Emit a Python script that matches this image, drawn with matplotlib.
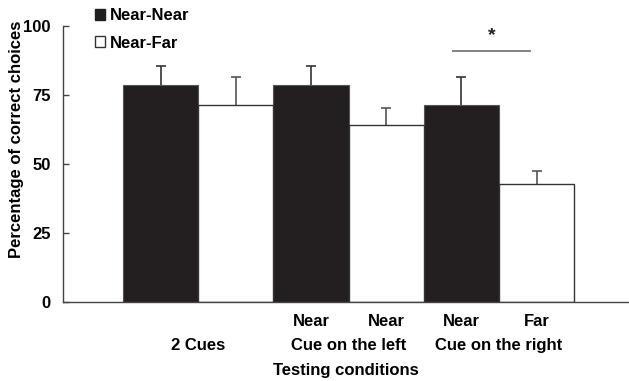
import matplotlib
matplotlib.use("Agg")
import matplotlib.pyplot as plt
from matplotlib.patches import Patch

plt.rcParams['font.family'] = ['Liberation Sans', 'DejaVu Sans']
plt.rcParams['font.weight'] = 'bold'

conditions = ["2 Cues", "Cue on the left", "Cue on the right"]
series = ["Near-Near", "Near-Far"]
near_near = [78.5, 78.5, 71.4]
near_far = [71.4, 64.3, 42.9]
near_near_err = [7.0, 7.0, 10.0]
near_far_err = [10.0, 6.0, 4.7]
bar_labels = ["", "", "Near", "Near", "Near", "Far"]
sig_y = 91.0

fig = plt.figure(figsize=(6.29, 3.81), dpi=100)
ax = fig.add_axes([63/629, 79/381, 566/629, 276/381])

black = '#231f20'
xs_nn = [2*i for i in range(3)]
xs_nf = [2*i + 1 for i in range(3)]
ax.bar(xs_nn, near_near, width=1.0, color=black, edgecolor='#555555', linewidth=0.8, zorder=2)
ax.bar(xs_nf, near_far, width=1.0, color='white', edgecolor='#333333', linewidth=1.0, zorder=2)
# symmetric error bars drawn behind the bars so only the upper half shows
ax.errorbar(xs_nn, near_near, yerr=near_near_err, fmt='none', ecolor='#333333',
            elinewidth=1.2, capsize=3.5, capthick=1.2, zorder=1)
ax.errorbar(xs_nf, near_far, yerr=near_far_err, fmt='none', ecolor='#555555',
            elinewidth=1.2, capsize=3.5, capthick=1.2, zorder=1)

# significance
ax.plot([xs_nn[2] - 0.11, xs_nf[2] - 0.09], [sig_y, sig_y], color='#777777', lw=1.3, clip_on=False)
ax.text((xs_nn[2] + xs_nf[2]) / 2 - 0.09, sig_y + 2.5, "*", ha='center', va='bottom', fontsize=14,
        fontweight='bold', color='#222222')

ax.set_xlim(-1.3, 6.23)
ax.set_ylim(0, 100)
ax.set_yticks([0, 25, 50, 75, 100])
ax.tick_params(axis='y', direction='in', length=4, width=1, color='#444444', labelsize=12, pad=9)

ax.set_xticks(range(6))
ax.set_xticklabels(bar_labels)
ax.set_xticks([0.5, 2.5, 4.5], minor=True)
ax.set_xticklabels(conditions, minor=True)
ax.tick_params(axis='x', which='major', length=0, labelsize=12, pad=9)
ax.tick_params(axis='x', which='minor', length=0, labelsize=12, pad=26)

for s in ['top', 'right']:
    ax.spines[s].set_visible(False)
for s in ['left', 'bottom']:
    ax.spines[s].set_color('#444444')
    ax.spines[s].set_linewidth(1.0)

ax.set_xlabel("Testing conditions", fontsize=12, fontweight='bold')
ax.xaxis.set_label_coords(0.5, -0.222)
fig.text(17/629, 1 - 139/381, "Percentage of correct choices", rotation=90, ha='center', va='center',
         fontsize=12, fontweight='bold')

handles = [Patch(facecolor=black, edgecolor=black), Patch(facecolor='white', edgecolor='#333333')]
fig.legend(handles, series, loc='upper left', bbox_to_anchor=(91/629, 1 - 4/381), frameon=False,
           fontsize=12, handlelength=0.6, handleheight=0.6, handletextpad=0.3, labelspacing=0.75,
           borderaxespad=0, borderpad=0.25)

fig.savefig("out.png", dpi=100)
